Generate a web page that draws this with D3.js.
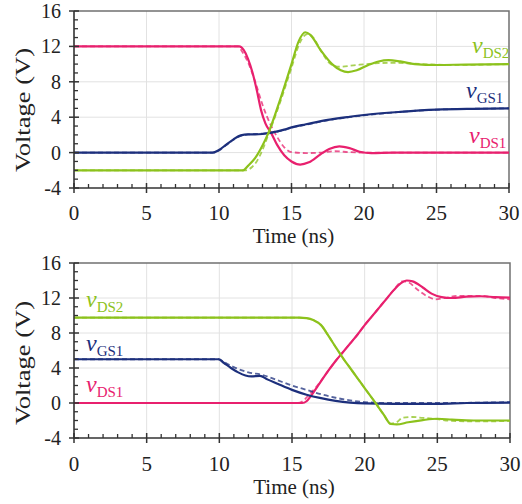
<!DOCTYPE html>
<html><head><meta charset="utf-8">
<script src="https://cdn.jsdelivr.net/npm/d3@7/dist/d3.min.js"></script>
<style>
html,body{margin:0;padding:0;background:#fff;}
svg{display:block;}
</style></head>
<body>
<script>
// ---------- data ----------
const timeTicks = [0, 5, 10, 15, 20, 25, 30];
const voltTicks = [-4, 0, 4, 8, 12, 16];
const seriesNames = ["vDS1", "vGS1", "vDS2"];
const seriesColors = {vDS1: "#e8206e", vGS1: "#1c2f7c", vDS2: "#8cc21c"};

// Top panel (turn-on) : solid = experiment, dashed = simulation  [time ns, volts]
const topDS1 = [[0,12],[11.4,12],[11.7,11.6],[12.0,10.6],[12.3,9.1],[12.6,7.1],[12.9,4.8],[13.2,3.3],[13.6,2.2],[14.0,0.9],[14.5,-0.3],[15.0,-1.0],[15.6,-1.35],[16.2,-1.1],[17.0,-0.2],[17.6,0.4],[18.3,0.7],[19.0,0.5],[19.7,0.1],[20.5,-0.05],[22,0],[30,0]];
const topDS1d = [[0,12],[11.3,12],[11.6,11.4],[12.0,10.2],[12.5,8.0],[13.0,5.4],[13.6,3.0],[14.0,1.8],[14.5,0.6],[15.0,0.05],[16,-0.05],[17,0],[18,0.15],[19,0.05],[20,0],[30,0]];
const topGS1 = [[0,0],[9.55,0],[10.0,0.3],[10.5,0.9],[11.0,1.5],[11.5,1.95],[12.0,2.05],[12.5,2.05],[13.0,2.1],[13.6,2.25],[14.5,2.6],[15.0,2.85],[16,3.2],[17.5,3.7],[19,4.05],[20,4.25],[22.5,4.6],[25,4.85],[27.5,4.95],[30,5.0]];
const topGS1d = [[0,0],[9.6,0],[10.0,0.25],[10.5,0.85],[11.0,1.45],[11.5,1.9],[12.0,2.05],[12.5,2.1],[13.0,2.15],[13.6,2.25],[14.5,2.55],[15.0,2.8],[16,3.15],[17.5,3.65],[19,4.0],[20,4.2],[22.5,4.6],[25,4.85],[27.5,4.95],[30,5.0]];
const topDS2 = [[0,-2],[11.66,-2],[12.0,-1.5],[12.5,-0.6],[13.0,0.8],[13.4,2.2],[14.2,5.9],[15.0,10.0],[15.5,12.6],[15.95,13.6],[16.3,13.3],[17.0,11.6],[17.8,10.0],[18.4,9.3],[18.9,9.1],[19.5,9.3],[20.3,9.9],[21.0,10.3],[21.7,10.45],[22.5,10.3],[23.5,10.0],[25,9.9],[27,9.95],[30,10]];
const topDS2d = [[0,-2],[11.8,-2],[12.3,-1.6],[12.6,-1.0],[13.0,0.3],[13.4,2.0],[14.2,5.6],[15.0,9.6],[15.6,12.5],[16.1,13.4],[16.5,13.0],[17.1,11.3],[17.7,10.0],[18.3,9.7],[19.5,9.9],[21,10.1],[22,10.15],[24,10.0],[26,9.9],[30,10]];

// Bottom panel (turn-off)
const botDS1 = [[0,0],[15.7,0],[16.0,0.2],[16.3,0.8],[16.8,2.0],[17.5,3.7],[18,4.8],[18.5,5.8],[19,6.8],[19.5,7.8],[20,8.9],[20.5,9.9],[21,10.9],[21.5,11.9],[22,12.9],[22.5,13.7],[22.9,14.0],[23.3,13.9],[24,13.2],[24.6,12.5],[25.3,12.1],[26,12.0],[27,12.15],[28,12.2],[29,12.1],[30,12.05]];
const botDS1d = [[0,0],[15.4,0],[15.8,0.3],[16.2,1.0],[16.8,2.1],[17.5,3.7],[18,4.8],[18.5,5.8],[19,6.8],[19.5,7.8],[20,8.9],[20.5,9.9],[21,10.9],[21.5,11.9],[22,12.9],[22.6,13.9],[23,13.8],[23.6,13.0],[24.3,12.2],[24.9,11.85],[25.5,12.0],[26.5,12.25],[28,12.25],[29,12.0],[30,11.85]];
const botGS1 = [[0,5],[9.95,5],[10.3,4.6],[10.8,4.0],[11.3,3.5],[11.8,3.15],[12.2,3.05],[12.8,3.1],[13.3,2.7],[14,2.2],[15,1.5],[16,0.95],[17,0.55],[18,0.25],[19,0.05],[20,-0.05],[22,-0.1],[25,-0.1],[27,0],[30,0.05]];
const botGS1d = [[0,5],[9.95,5],[10.3,4.7],[11,4.1],[12,3.5],[13,3.2],[14,2.6],[15,2.0],[16,1.5],[17,1.0],[18,0.6],[19,0.3],[20,0.1],[22,0.0],[25,0],[30,0.1]];
const botDS2 = [[0,9.75],[15.5,9.75],[16,9.7],[16.5,9.45],[17,8.9],[17.5,7.7],[18,6.4],[18.6,4.9],[19,4.0],[19.5,2.85],[20,1.7],[20.75,0],[21.3,-1.3],[21.8,-2.4],[22.2,-2.45],[23,-2.2],[24,-1.95],[25,-1.8],[26,-1.9],[27.5,-2.0],[30,-2.0]];
const botDS2d = [[0,9.75],[15.5,9.75],[16,9.7],[16.5,9.45],[17,8.9],[17.5,7.7],[18,6.4],[18.6,4.9],[19,4.0],[19.5,2.85],[20,1.7],[20.75,0],[21.3,-1.3],[21.8,-2.35],[22.2,-2.2],[22.6,-1.7],[23.3,-1.6],[24,-1.7],[25,-1.85],[26,-2.05],[28,-2.1],[30,-2.05]];

// ---------- drawing ----------
const W = 522, H = 504;
const FONT = "'Liberation Serif', 'Times New Roman', Times, 'DejaVu Serif', serif";
const svg = d3.select("body").append("svg").attr("width", W).attr("height", H)
  .attr("font-family", FONT).style("font-family", FONT);

const panels = [
  {top: 11, bottom: 188, left: 74, right: 509, xTickY: 220, titleY: 243, ylabY: 110,
   solid: {vDS1: topDS1, vGS1: topGS1, vDS2: topDS2},
   dashed: {vDS1: topDS1d, vGS1: topGS1d, vDS2: topDS2d},
   labels: {vDS2: [472, 53], vGS1: [466, 98], vDS1: [469, 143]}},
  {top: 263, bottom: 438, left: 74, right: 510, xTickY: 471, titleY: 494, ylabY: 363,
   solid: {vDS1: botDS1, vGS1: botGS1, vDS2: botDS2},
   dashed: {vDS1: botDS1d, vGS1: botGS1d, vDS2: botDS2d},
   labels: {vDS2: [86, 307], vGS1: [86, 351], vDS1: [86, 392]}}
];

panels.forEach(p => {
  const x = d3.scaleLinear().domain([0, 30]).range([p.left, p.right]);
  const y = d3.scaleLinear().domain([-4, 16]).range([p.bottom, p.top]);
  const g = svg.append("g");

  // grid
  g.selectAll(".vg").data(timeTicks.slice(1, -1)).join("line")
    .attr("x1", d => x(d)).attr("x2", d => x(d)).attr("y1", p.top).attr("y2", p.bottom)
    .attr("stroke", "#e2e2e2").attr("stroke-width", 1);
  g.selectAll(".hg").data(voltTicks.slice(1, -1)).join("line")
    .attr("y1", d => y(d)).attr("y2", d => y(d)).attr("x1", p.left).attr("x2", p.right)
    .attr("stroke", "#e2e2e2").attr("stroke-width", 1);

  // top & right frame
  g.append("path")
    .attr("d", `M${p.left},${p.top}H${p.right}V${p.bottom}`)
    .attr("fill", "none").attr("stroke", "#707070").attr("stroke-width", 1.5);

  // series
  const line = d3.line().x(d => x(d[0])).y(d => y(d[1])).curve(d3.curveMonotoneX);
  seriesNames.forEach(n => {
    g.append("path").datum(p.dashed[n]).attr("d", line)
      .attr("fill", "none").attr("stroke", seriesColors[n]).attr("stroke-opacity", 0.75)
      .attr("stroke-width", 1.8).attr("stroke-dasharray", "5,3");
    g.append("path").datum(p.solid[n]).attr("d", line)
      .attr("fill", "none").attr("stroke", seriesColors[n]).attr("stroke-width", 2.2);
  });

  // axes (left & bottom)
  const minorX = d3.range(0, 31, 1).filter(v => v % 5 !== 0);
  const minorY = d3.range(-4, 17, 1).filter(v => v % 4 !== 0);
  g.selectAll(".mx").data(minorX).join("line")
    .attr("x1", d => x(d)).attr("x2", d => x(d)).attr("y1", p.bottom).attr("y2", p.bottom - 4)
    .attr("stroke", "#333").attr("stroke-width", 1.3);
  g.selectAll(".Mx").data(timeTicks).join("line")
    .attr("x1", d => x(d)).attr("x2", d => x(d)).attr("y1", p.bottom + 5).attr("y2", p.bottom - 5)
    .attr("stroke", "#333").attr("stroke-width", 1.5);
  g.selectAll(".my").data(minorY).join("line")
    .attr("y1", d => y(d)).attr("y2", d => y(d)).attr("x1", p.left).attr("x2", p.left + 4)
    .attr("stroke", "#333").attr("stroke-width", 1.3);
  g.selectAll(".My").data(voltTicks).join("line")
    .attr("y1", d => y(d)).attr("y2", d => y(d)).attr("x1", p.left - 5).attr("x2", p.left + 5)
    .attr("stroke", "#333").attr("stroke-width", 1.5);
  g.append("path").attr("d", `M${p.left},${p.top}V${p.bottom}H${p.right}`)
    .attr("fill", "none").attr("stroke", "#333").attr("stroke-width", 1.6);

  // tick labels
  g.selectAll(".xl").data(timeTicks).join("text")
    .attr("x", d => x(d)).attr("y", p.xTickY).attr("text-anchor", "middle")
    .attr("font-size", 21).attr("fill", "#222").text(d => d);
  g.selectAll(".yl").data(voltTicks).join("text")
    .attr("x", p.left - 13).attr("y", d => y(d) + 7).attr("text-anchor", "end")
    .attr("font-size", 20).attr("fill", "#222").text(d => d);

  // axis titles
  g.append("text").attr("x", (p.left + p.right) / 2 + 2).attr("y", p.titleY)
    .attr("text-anchor", "middle").attr("font-size", 21).attr("fill", "#222").text("Time (ns)");
  g.append("text")
    .attr("transform", `translate(30,${p.ylabY}) rotate(-90)`)
    .attr("text-anchor", "middle").attr("font-size", 22)
    .attr("textLength", 124).attr("lengthAdjust", "spacingAndGlyphs")
    .attr("fill", "#222").text("Voltage (V)");

  // series labels
  seriesNames.forEach(n => {
    const [lx, ly] = p.labels[n];
    const t = g.append("text").attr("x", lx).attr("y", ly).attr("fill", seriesColors[n]);
    t.append("tspan").attr("font-style", "italic").attr("font-size", 24).text("v");
    t.append("tspan").attr("font-size", 15).attr("dy", 5).text(n.slice(1));
  });
});
</script>
</body></html>
